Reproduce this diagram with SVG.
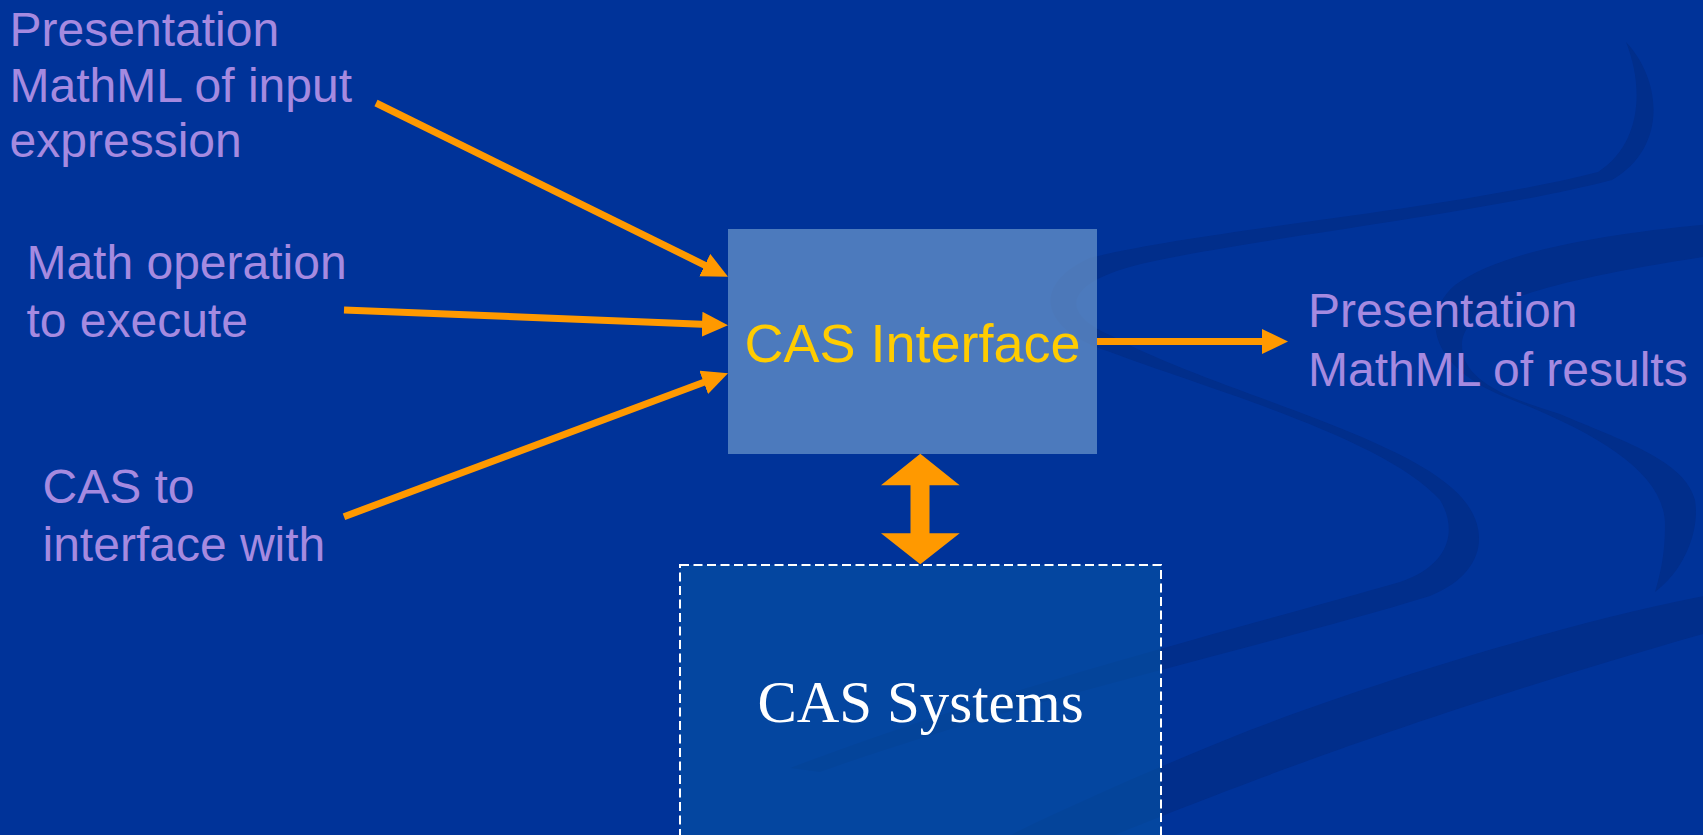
<svg xmlns="http://www.w3.org/2000/svg" width="1703" height="835" viewBox="0 0 1703 835">
  <style>
    .lbl { font-family: "Liberation Sans", Arial, sans-serif; font-size: 48px; fill: #a58ae0; }
    .rib { fill: #012e8b; stroke: none; }
    .conn { stroke: #ff9900; stroke-width: 7; fill: none; }
  </style>
  <defs>
    <marker id="ah" markerUnits="userSpaceOnUse" markerWidth="28" markerHeight="26" refX="6" refY="12.5" orient="auto">
      <path d="M0,0 L26,12.5 L0,25 Z" fill="#ff9900"/>
    </marker>
  </defs>

  <rect width="1703" height="835" fill="#003399"/>

  <g id="background-ribbons">
    <path class="rib" d="M1626,42 C1662,80 1668,148 1612,180 C1490,212 1260,238 1150,262 C1065,280 1055,312 1112,336 C1200,385 1390,432 1452,488 C1492,522 1490,572 1430,596 C1260,648 1020,700 820,772 L790,768 C1000,688 1240,628 1400,582 C1450,565 1458,530 1440,500 C1385,438 1205,388 1110,352 C1040,330 1030,285 1090,258 C1200,230 1450,210 1598,172 C1640,145 1645,90 1626,42 Z"/>
    <path class="rib" d="M1710,224 C1600,234 1500,252 1455,285 C1420,315 1430,365 1500,395 C1590,430 1665,470 1665,525 C1665,555 1660,575 1655,592 C1685,570 1700,530 1695,500 C1685,460 1620,440 1560,414 C1500,396 1462,378 1462,345 C1462,310 1520,285 1710,256 Z"/>
    <path class="rib" d="M1710,595 C1600,615 1400,672 1250,730 C1150,770 1060,810 990,845 L1090,845 C1200,800 1400,720 1710,632 Z"/>
  </g>

  <g id="node-cas-systems">
    <rect x="680" y="565" width="481" height="290" fill="#0753a5" fill-opacity="0.6" stroke="#ffffff" stroke-width="2" stroke-dasharray="9 4.5"/>
    <text x="920.5" y="721.7" text-anchor="middle" font-family="'Liberation Serif', 'Times New Roman', serif" font-size="59" fill="#ffffff">CAS Systems</text>
  </g>

  <g id="node-cas-interface">
    <rect x="728" y="229" width="369" height="225" fill="#6a96cb" fill-opacity="0.72"/>
    <text x="912.5" y="361.7" text-anchor="middle" font-family="'Liberation Sans', Arial, sans-serif" font-size="54" fill="#ffcc00">CAS Interface</text>
  </g>

  <g id="node-input-expression">
    <text class="lbl" x="9.6" y="46">Presentation</text>
    <text class="lbl" x="9.6" y="101.7">MathML of input</text>
    <text class="lbl" x="9.6" y="157">expression</text>
  </g>

  <g id="node-math-operation">
    <text class="lbl" x="26.4" y="279.3">Math operation</text>
    <text class="lbl" x="26.4" y="336.7">to execute</text>
  </g>

  <g id="node-cas-choice">
    <text class="lbl" x="42.5" y="503.3">CAS to</text>
    <text class="lbl" x="42.5" y="560.7">interface with</text>
  </g>

  <g id="node-results">
    <text class="lbl" x="1308" y="326.7">Presentation</text>
    <text class="lbl" x="1308" y="386">MathML of results</text>
  </g>

  <g id="connectors">
    <line class="conn" x1="376" y1="103" x2="710.1" y2="267.8" marker-end="url(#ah)"/>
    <line class="conn" x1="344" y1="310" x2="708" y2="324.5" marker-end="url(#ah)"/>
    <line class="conn" x1="344" y1="516.7" x2="709.3" y2="380.3" marker-end="url(#ah)"/>
    <line class="conn" x1="1097" y1="341.5" x2="1268" y2="341.5" stroke-width="8" marker-end="url(#ah)"/>
    <path d="M920.3,453.7 L959.7,485.3 L929.5,485.3 L929.5,533.3 L959.7,533.3 L920.3,564.3 L881,533.3 L910.5,533.3 L910.5,485.3 L881,485.3 Z" fill="#ff9900"/>
  </g>
</svg>
